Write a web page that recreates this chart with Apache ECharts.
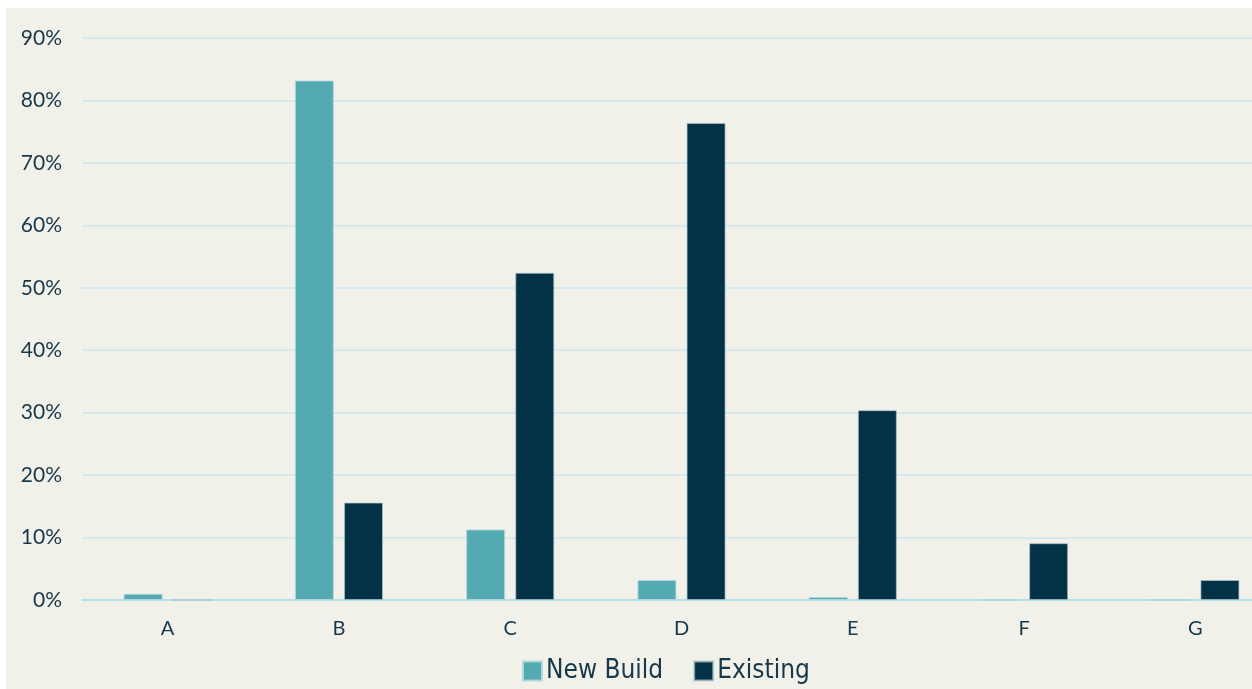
<!DOCTYPE html>
<html>
<head>
<meta charset="utf-8">
<script src="https://cdn.jsdelivr.net/npm/echarts@6/dist/echarts.min.js"></script>
<style>
html,body{margin:0;padding:0;background:#ffffff;width:1252px;height:689px;overflow:hidden;position:relative;}
#chart{position:absolute;left:6px;top:8px;width:1275px;height:681px;}
</style>
</head>
<body>
<div id="chart"></div>
<script>
const categories = ['A','B','C','D','E','F','G'];
const newBuild = [1.0, 83.2, 11.3, 3.2, 0.5, 0, 0];
const existing = [0, 15.6, 52.4, 76.4, 30.4, 9.1, 3.2];
const yTicks = [0, 90, 10];

const chart = echarts.init(document.getElementById('chart'), null, {renderer:'canvas'});
const labelColor = '#17384a';
chart.setOption({
  backgroundColor: '#f1f1ea',
  animation: false,
  grid: {left: 76, top: 30, right: 0, height: 562, containLabel: false},
  legend: {
    data: ['New Build','Existing'],
    left: 511, top: 645,
    itemWidth: 19, itemHeight: 19, itemGap: 30,
    icon: 'rect',
    textStyle: {fontFamily: '"DejaVu Sans Condensed", "Liberation Sans Narrow", sans-serif', fontSize: 26, color: labelColor, padding: [0,0,0,-1]}
  },
  xAxis: {
    type: 'category', data: categories,
    axisLine: {show: true, lineStyle: {color: '#aadcef', width: 1.5}},
    axisTick: {show: false},
    axisLabel: {color: labelColor, fontSize: 20, fontFamily: 'Lato, "Noto Sans", sans-serif', margin: 19}
  },
  yAxis: {
    type: 'value', min: yTicks[0], max: yTicks[1], interval: yTicks[2],
    axisLine: {show: false}, axisTick: {show: false},
    axisLabel: {formatter: '{value}%', color: labelColor, fontSize: 21, fontFamily: 'Lato, "Noto Sans", sans-serif', margin: 20},
    splitLine: {lineStyle: {color: '#d4e8ee', width: 2}}
  },
  series: [
    {name: 'New Build', type: 'bar', data: newBuild, barWidth: 39, barGap: '26%',
     itemStyle: {color: '#54aab1', borderColor: 'rgba(180,215,225,0.9)', borderWidth: 1}},
    {name: 'Existing', type: 'bar', data: existing, barWidth: 39,
     itemStyle: {color: '#033246', borderColor: 'rgba(170,195,205,0.7)', borderWidth: 1}}
  ]
});
</script>
</body>
</html>
